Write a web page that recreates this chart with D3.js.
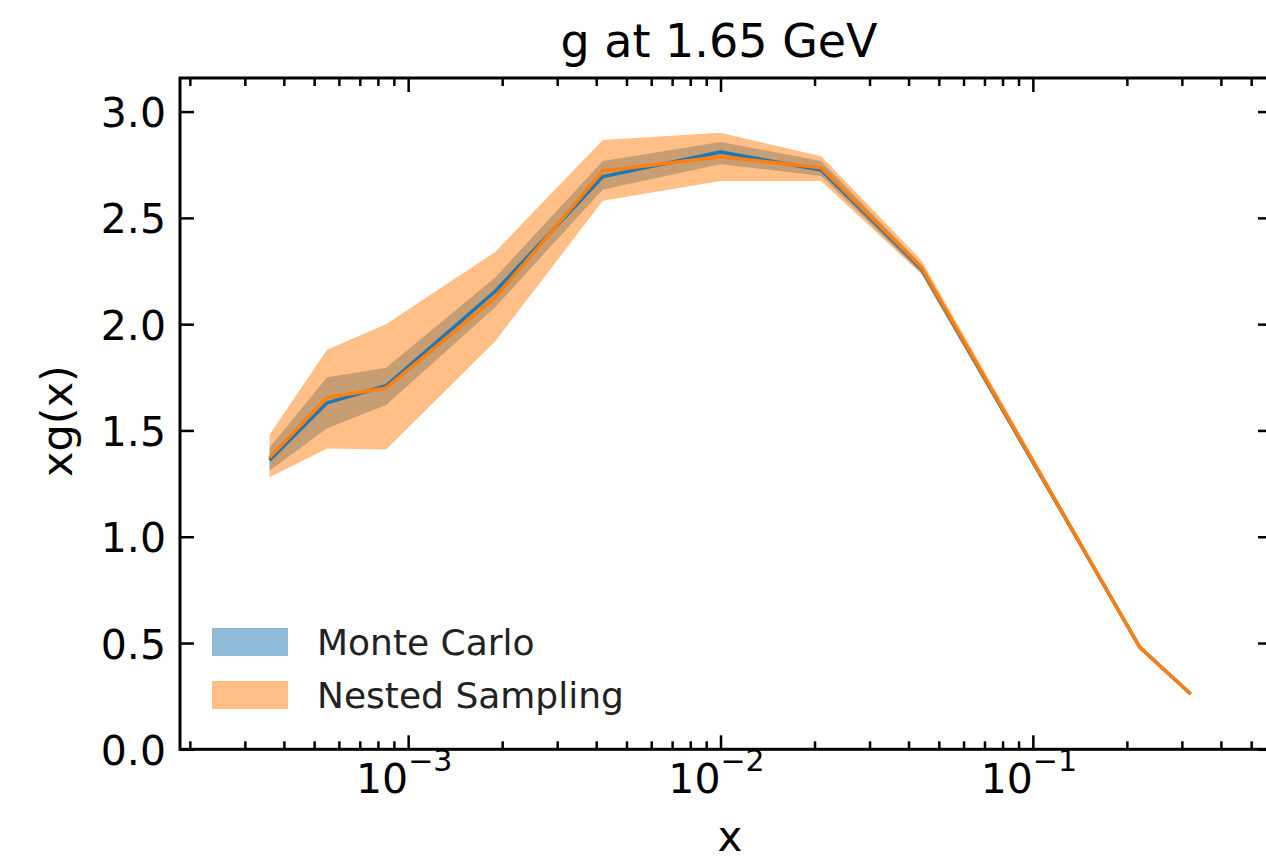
<!DOCTYPE html>
<html>
<head>
<meta charset="utf-8">
<script src="https://cdn.jsdelivr.net/npm/d3@7"></script>
<style>
  html, body { margin: 0; padding: 0; background: #fff; }
  svg { display: block; font-family: "DejaVu Sans", sans-serif; }
</style>
</head>
<body>
<svg id="chart" width="1266" height="862"></svg>
<script>
// ---- data ----
const xValues   = [3.6e-4, 5.5e-4, 8.5e-4, 1.9e-3, 4.2e-3, 1.0e-2, 2.1e-2, 4.4e-2, 0.22, 0.32];
const mcCentral = [1.36, 1.63, 1.71, 2.155, 2.694, 2.81, 2.725, 2.26, 0.48, 0.26];
const mcLower   = [1.31, 1.51, 1.62, 2.08, 2.634, 2.752, 2.697, 2.24, 0.47, 0.255];
const mcUpper   = [1.42, 1.75, 1.795, 2.22, 2.767, 2.857, 2.767, 2.28, 0.49, 0.265];
const nsCentral = [1.372, 1.655, 1.70, 2.125, 2.72, 2.788, 2.736, 2.267, 0.48, 0.26];
const nsLower   = [1.28, 1.415, 1.41, 1.92, 2.58, 2.673, 2.673, 2.235, 0.47, 0.255];
const nsUpper   = [1.48, 1.88, 2.0, 2.34, 2.866, 2.90, 2.79, 2.30, 0.49, 0.265];
const yTicks = [0.0, 0.5, 1.0, 1.5, 2.0, 2.5, 3.0];
const xMajorTicks = [1e-3, 1e-2, 1e-1];
const xTickExponents = ["−3", "−2", "−1"];
const seriesNames = ["Monte Carlo", "Nested Sampling"];
const titleText = "g at 1.65 GeV";
const xLabel = "x";
const yLabel = "xg(x)";

// ---- layout ----
const L = 180, R = 1272, T = 78, B = 749.3;
const C0 = "#1f77b4", C1 = "#ff7f0e";

const svg = d3.select("#chart");
const x = d3.scaleLog().domain([1.86e-4, 0.583]).range([L, R]);
const y = d3.scaleLinear().domain([0, 3.158]).range([B, T]);

svg.append("defs").append("clipPath").attr("id", "clip")
  .append("rect").attr("x", L).attr("y", T).attr("width", R - L).attr("height", B - T);

const mc = xValues.map((v, i) => ({x: v, c: mcCentral[i], lo: mcLower[i], hi: mcUpper[i]}));
const ns = xValues.map((v, i) => ({x: v, c: nsCentral[i], lo: nsLower[i], hi: nsUpper[i]}));

const area = d3.area().x(d => x(d.x)).y0(d => y(d.lo)).y1(d => y(d.hi));
const line = d3.line().x(d => x(d.x)).y(d => y(d.c));

const plot = svg.append("g").attr("clip-path", "url(#clip)");
plot.append("path").datum(mc).attr("d", area).attr("fill", C0).attr("fill-opacity", 0.5);
plot.append("path").datum(ns).attr("d", area).attr("fill", C1).attr("fill-opacity", 0.5);
plot.append("path").datum(mc).attr("d", line).attr("fill", "none").attr("stroke", C0)
  .attr("stroke-width", 3.5).attr("stroke-linejoin", "round");
plot.append("path").datum(ns).attr("d", line).attr("fill", "none").attr("stroke", C1)
  .attr("stroke-width", 3.5).attr("stroke-linejoin", "round");

// ---- axes ----
const minorTicks = x.ticks().filter(t => !xMajorTicks.some(m => Math.abs(m - t) / m < 1e-6));
const tickW = 2.5;

function styleAxis(g) {
  g.select(".domain").remove();
  g.selectAll(".tick line").attr("stroke", "#000").attr("stroke-width", tickW);
}

// bottom major / minor
svg.append("g").attr("transform", `translate(0,${B})`)
  .call(d3.axisBottom(x).tickValues(xMajorTicks).tickSize(-14).tickFormat(""))
  .call(styleAxis);
svg.append("g").attr("transform", `translate(0,${B})`)
  .call(d3.axisBottom(x).tickValues(minorTicks).tickSize(-8).tickFormat(""))
  .call(styleAxis);
// top
svg.append("g").attr("transform", `translate(0,${T})`)
  .call(d3.axisTop(x).tickValues(xMajorTicks).tickSize(-14).tickFormat(""))
  .call(styleAxis);
svg.append("g").attr("transform", `translate(0,${T})`)
  .call(d3.axisTop(x).tickValues(minorTicks).tickSize(-8).tickFormat(""))
  .call(styleAxis);
// left / right
svg.append("g").attr("transform", `translate(${L},0)`)
  .call(d3.axisLeft(y).tickValues(yTicks).tickSize(-14).tickFormat(""))
  .call(styleAxis);
svg.append("g").attr("transform", `translate(${R},0)`)
  .call(d3.axisRight(y).tickValues(yTicks).tickSize(-14).tickFormat(""))
  .call(styleAxis);

// spines
svg.append("rect").attr("x", L).attr("y", T).attr("width", R - L).attr("height", B - T)
  .attr("fill", "none").attr("stroke", "#000").attr("stroke-width", 3);

// y tick labels
svg.append("g").selectAll("text").data(yTicks).join("text")
  .attr("x", L - 14).attr("y", d => y(d) + 15.5)
  .attr("text-anchor", "end").attr("font-size", 41).attr("fill", "#000")
  .text(d3.format(".1f"));

// x tick labels with superscripts
const xl = svg.append("g").selectAll("text").data(xMajorTicks).join("text")
  .attr("x", d => x(d) - 4).attr("y", B + 44)
  .attr("text-anchor", "middle").attr("font-size", 41).attr("fill", "#000");
xl.append("tspan").text("10");
xl.append("tspan").attr("dy", -22).attr("font-size", 30).text((d, i) => xTickExponents[i]);

// axis labels and title
svg.append("text").attr("x", (L + R) / 2 + 4).attr("y", 851)
  .attr("text-anchor", "middle").attr("font-size", 42).attr("fill", "#000").text(xLabel);
svg.append("text").attr("transform", `translate(72,${421}) rotate(-90)`)
  .attr("text-anchor", "middle").attr("font-size", 43).attr("fill", "#000").text(yLabel);
svg.append("text").attr("x", 719).attr("y", 57)
  .attr("text-anchor", "middle").attr("font-size", 46).attr("fill", "#000").text(titleText);

// legend
const legend = svg.append("g");
const legColors = [C0, C1];
seriesNames.forEach((name, i) => {
  const cy = 642 + i * 53;
  legend.append("rect").attr("x", 212).attr("y", cy - 14).attr("width", 76).attr("height", 28)
    .attr("fill", legColors[i]).attr("fill-opacity", 0.5);
  legend.append("text").attr("x", 317).attr("y", cy + 13)
    .attr("font-size", 36).attr("fill", "#222").text(name);
});
</script>
</body>
</html>
